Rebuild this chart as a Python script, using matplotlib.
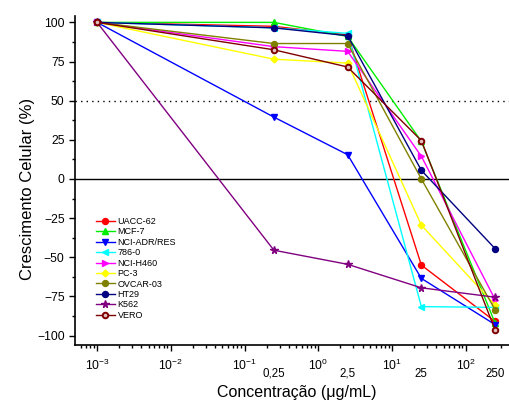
import numpy as np
import matplotlib.pyplot as plt
from matplotlib.ticker import LogLocator, LogFormatterMathtext, MultipleLocator
import matplotlib.transforms as mtransforms

plt.rcParams['font.family'] = ['Liberation Sans', 'DejaVu Sans']
plt.rcParams['mathtext.fontset'] = 'custom'
plt.rcParams['mathtext.rm'] = 'Liberation Sans'
plt.rcParams['mathtext.it'] = 'Liberation Sans:italic'
plt.rcParams['mathtext.default'] = 'regular'

# concentrations (ug/mL); first point is the control
conc = [0.001, 0.25, 2.5, 25, 250]
conc_labels = ['0,25', '2,5', '25', '250']

uacc62 = [100, 97.5, 92, -55, -91]
mcf7 = [100, 100, 91, 24, -92]
nci_adr = [100, 39.5, 15.5, -63.5, -93]
c786_0 = [100, 96.5, 93, -81.5, -82]
nci_h460 = [100, 84.5, 81.5, 14.5, -77]
pc3 = [100, 76.5, 74, -29.5, -80.5]
ovcar03 = [100, 86.5, 86.5, 0, -83.5]
ht29 = [100, 96.5, 91.5, 5.5, -44.5]
k562 = [100, -45.5, -54.5, -69.5, -75.5]
vero = [100, 82.5, 71.5, 24.5, -96.5]

series = [
    ('UACC-62', uacc62, '#ff0000', 'o'),
    ('MCF-7', mcf7, '#00ee00', '^'),
    ('NCI-ADR/RES', nci_adr, '#0000ff', 'v'),
    ('786-0', c786_0, '#00ffff', '<'),
    ('NCI-H460', nci_h460, '#ff00ff', '>'),
    ('PC-3', pc3, '#ffff00', 'D'),
    ('OVCAR-03', ovcar03, '#808000', 'o'),
    ('HT29', ht29, '#000080', 'o'),
    ('K562', k562, '#800080', '*'),
    ('VERO', vero, '#800000', 'o'),
]

fig = plt.figure(figsize=(5.1, 4.03), dpi=100)
ax = fig.add_axes([0.147, 0.144, 0.853, 0.816])

for name, vals, col, mk in series:
    ms = 4.3
    if mk == 'D':
        ms = 3.5
    if mk == '*':
        ms = 5.5
    if name == 'VERO':
        ax.plot(conc, vals, color=col, marker=mk, ms=4, mfc='#e0c0c0',
                mec=col, mew=1.4, lw=1, label=name)
    else:
        ax.plot(conc, vals, color=col, marker=mk, ms=ms, mec=col, lw=1, label=name)

ax.axhline(0, color='black', lw=1, zorder=0)
ax.axhline(50, color='black', lw=1, ls=(0, (1, 3)), zorder=0)

ax.set_xscale('log')
ax.set_xlim(10 ** -3.3, 10 ** 2.6)
ax.set_ylim(-106, 104)
ax.xaxis.set_major_locator(LogLocator(base=10, numticks=10))
ax.xaxis.set_major_formatter(LogFormatterMathtext())
ax.xaxis.set_minor_locator(LogLocator(base=10, subs=np.arange(2, 10), numticks=20))
ax.yaxis.set_major_locator(MultipleLocator(25))
ax.yaxis.set_minor_locator(MultipleLocator(12.5))

for s in ['top', 'right']:
    ax.spines[s].set_visible(False)
ax.spines['left'].set_linewidth(1.2)
ax.spines['bottom'].set_linewidth(1.2)

ax.tick_params(axis='both', which='major', labelsize=8.7, length=4, width=1, direction='out')
ax.tick_params(axis='both', which='minor', length=2.5, width=1, direction='out')
ax.tick_params(axis='x', which='major', pad=5)

# extra concentration labels below the axis
trans = mtransforms.blended_transform_factory(ax.transData, ax.transAxes)
for c, lab in zip(conc[1:], conc_labels):
    ax.text(c, -0.087, lab, transform=trans, ha='center', va='center', fontsize=8.3)

ax.set_ylabel('Crescimento Celular (%)', fontsize=12)
ax.set_xlabel('Concentração (μg/mL)', fontsize=11.5)
ax.yaxis.set_label_coords(-0.091, 0.474)
ax.xaxis.set_label_coords(0.51, -0.122)

ax.legend(loc='upper left', bbox_to_anchor=(0.179, 0.473), bbox_transform=fig.transFigure,
          frameon=False, fontsize=6.5, handlelength=2.1, labelspacing=0.16,
          handletextpad=0.3, borderpad=0)

fig.savefig('out.png', dpi=100)
